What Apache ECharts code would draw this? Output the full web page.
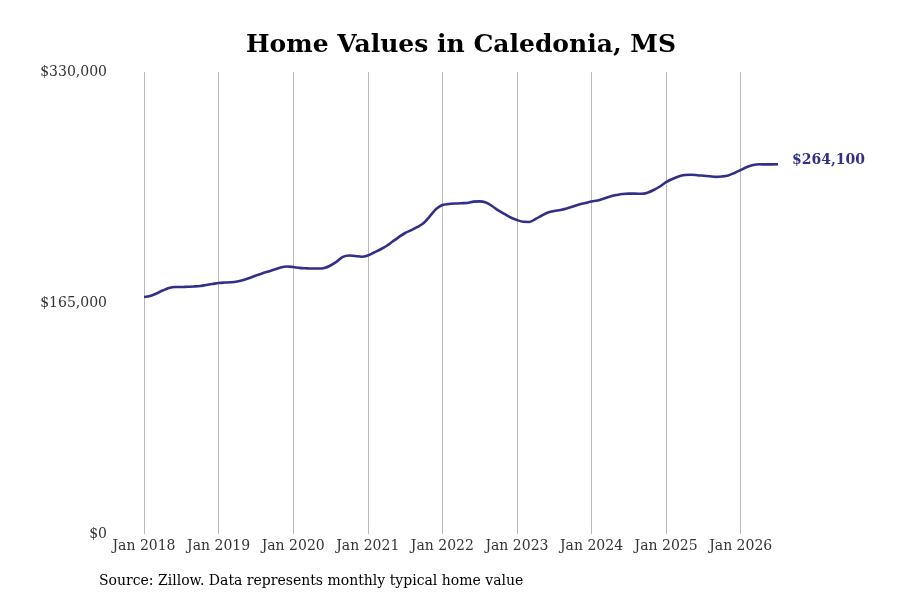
<!DOCTYPE html>
<html>
<head>
<meta charset="utf-8">
<script src="https://cdn.jsdelivr.net/npm/echarts@6/dist/echarts.min.js"></script>
<style>
  html, body { margin: 0; padding: 0; background: #fff; }
  #chart { width: 900px; height: 600px; }
</style>
</head>
<body>
<div id="chart"></div>
<script>
// month labels, Jan 2018 .. Jul 2026
var monthNames = ['Jan','Feb','Mar','Apr','May','Jun','Jul','Aug','Sep','Oct','Nov','Dec'];
var years = [2018, 2019, 2020, 2021, 2022, 2023, 2024, 2025, 2026];
var months = [];
years.forEach(function (y) {
  monthNames.forEach(function (m) { months.push(m + ' ' + y); });
});
months = months.slice(0, 103);

// typical home value
var values2018 = [169300, 170000, 171800, 173900, 175700, 176400, 176400, 176600, 176800, 177100, 177900, 178600];
var values2019 = [179300, 179600, 179800, 180400, 181400, 182900, 184600, 186100, 187500, 188900, 190400, 191100];
var values2020 = [190700, 190100, 189800, 189600, 189600, 190000, 191800, 194600, 197900, 198900, 198600, 198000];
var values2021 = [198900, 201100, 203200, 205700, 208900, 212100, 215000, 217100, 219300, 222100, 227100, 232100];
var values2022 = [235000, 235700, 236100, 236300, 236400, 237400, 237600, 236800, 234300, 231100, 228600, 226100];
var values2023 = [224300, 223000, 222900, 225000, 227500, 229600, 230700, 231400, 232500, 233900, 235400, 236400];
var values2024 = [237500, 238200, 239600, 241100, 242100, 242900, 243100, 243100, 243000, 243800, 245700, 248200];
var values2025 = [251400, 253600, 255400, 256400, 256600, 256300, 255900, 255500, 255100, 255400, 256100, 257900];
var values2026 = [260000, 262100, 263600, 264100, 264000, 264000, 264100];

var homeValues = [].concat(values2018, values2019, values2020, values2021, values2022,
  values2023, values2024, values2025, values2026);

var yTicks = [0, 165000, 330000];
var lineColor = '#312f88';
var font = '"DejaVu Serif", serif';

var chart = echarts.init(document.getElementById('chart'));

var option = {
  animation: false,
  title: {
    text: 'Home Values in Caledonia, MS',
    left: 241,
    top: 28,
    textStyle: { fontFamily: font, fontSize: 25, fontWeight: 'bold', color: '#000' }
  },
  graphic: [{
    type: 'text',
    left: 99,
    top: 574,
    style: {
      text: 'Source: Zillow. Data represents monthly typical home value',
      font: '14px ' + font,
      fill: '#000'
    }
  }],
  grid: { left: 144, right: 122, top: 72, bottom: 66, containLabel: false },
  xAxis: {
    type: 'category',
    data: months,
    boundaryGap: false,
    axisLine: { show: false },
    axisTick: { show: false },
    axisLabel: {
      interval: function (i, v) { return v.indexOf('Jan') === 0; },
      fontFamily: font,
      fontSize: 14,
      color: '#333',
      margin: 5
    },
    splitLine: {
      show: true,
      interval: function (i, v) { return v.indexOf('Jan') === 0; },
      lineStyle: { color: '#bbbbbb', width: 1 }
    }
  },
  yAxis: {
    type: 'value',
    min: yTicks[0],
    max: yTicks[yTicks.length - 1],
    interval: yTicks[1] - yTicks[0],
    axisLine: { show: false },
    axisTick: { show: false },
    splitLine: { show: false },
    axisLabel: {
      fontFamily: font,
      fontSize: 14,
      color: '#333',
      margin: 37,
      formatter: function (v) { return '$' + v.toLocaleString('en-US'); }
    }
  },
  series: [{
    type: 'line',
    data: homeValues,
    showSymbol: false,
    smooth: 0.3,
    lineStyle: { color: lineColor, width: 2.6 },
    itemStyle: { color: lineColor },
    endLabel: {
      show: true,
      distance: 14,
      offset: [0, -4],
      fontFamily: font,
      fontSize: 14,
      fontWeight: 'bold',
      color: lineColor,
      formatter: function (p) { return '$' + p.value.toLocaleString('en-US'); }
    }
  }]
};

chart.setOption(option);
</script>
</body>
</html>
